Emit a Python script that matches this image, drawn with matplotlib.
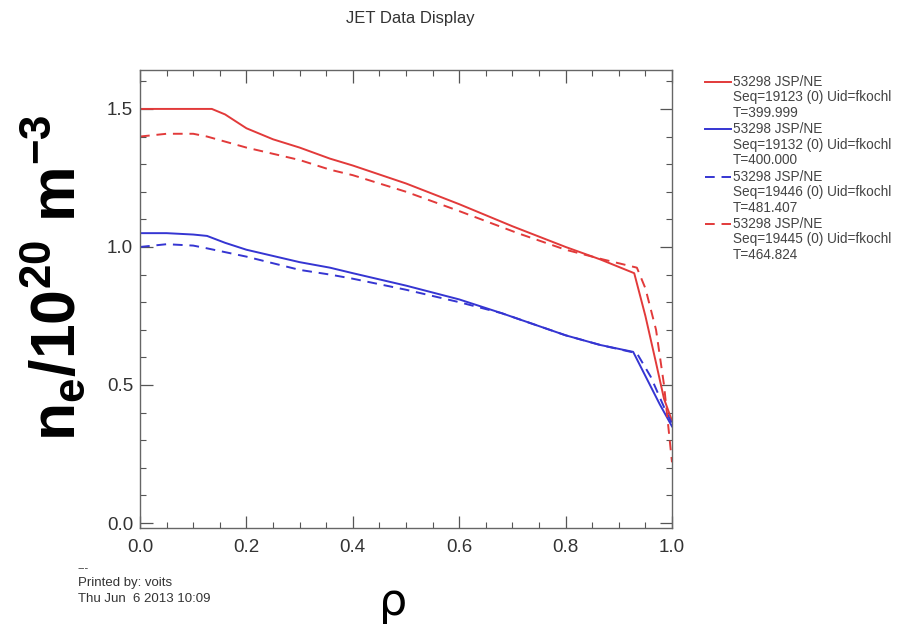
import matplotlib
matplotlib.use("Agg")
import matplotlib.pyplot as plt
from matplotlib.lines import Line2D
from matplotlib.ticker import MultipleLocator

plt.rcParams["mathtext.fontset"] = "custom"
plt.rcParams["mathtext.rm"] = "Liberation Sans"
plt.rcParams["mathtext.bf"] = "Liberation Sans:bold"
plt.rcParams["mathtext.it"] = "Liberation Sans:italic"

# ---- data ----
rho_r1 = [0.0, 0.05, 0.10, 0.135, 0.16, 0.20, 0.25, 0.30, 0.357, 0.40, 0.50, 0.60, 0.70, 0.80, 0.865, 0.929, 0.95, 0.97, 0.985, 1.0]
ne_r1 = [1.50, 1.50, 1.50, 1.50, 1.48, 1.43, 1.39, 1.36, 1.32, 1.295, 1.23, 1.155, 1.075, 1.00, 0.955, 0.905, 0.75, 0.58, 0.45, 0.37]

rho_b1 = [0.0, 0.05, 0.10, 0.126, 0.16, 0.20, 0.30, 0.357, 0.40, 0.50, 0.60, 0.68, 0.80, 0.865, 0.927, 0.977, 1.0]
ne_b1 = [1.05, 1.05, 1.045, 1.04, 1.015, 0.99, 0.945, 0.925, 0.905, 0.86, 0.81, 0.76, 0.68, 0.645, 0.62, 0.43, 0.35]

rho_b2 = [0.0, 0.05, 0.10, 0.126, 0.20, 0.30, 0.357, 0.40, 0.50, 0.60, 0.68, 0.80, 0.865, 0.934, 0.96, 0.985, 1.0]
ne_b2 = [1.00, 1.01, 1.005, 0.995, 0.965, 0.917, 0.90, 0.885, 0.845, 0.80, 0.76, 0.68, 0.645, 0.615, 0.53, 0.42, 0.36]

rho_r2 = [0.0, 0.05, 0.10, 0.126, 0.20, 0.30, 0.357, 0.40, 0.50, 0.60, 0.71, 0.80, 0.87, 0.934, 0.95, 0.97, 0.985, 1.0]
ne_r2 = [1.40, 1.41, 1.41, 1.40, 1.36, 1.315, 1.28, 1.26, 1.20, 1.13, 1.05, 0.99, 0.955, 0.925, 0.85, 0.70, 0.50, 0.22]

series = [
    (rho_r1, ne_r1, "53298 JSP/NE\nSeq=19123 (0) Uid=fkochl\nT=399.999"),
    (rho_b1, ne_b1, "53298 JSP/NE\nSeq=19132 (0) Uid=fkochl\nT=400.000"),
    (rho_b2, ne_b2, "53298 JSP/NE\nSeq=19446 (0) Uid=fkochl\nT=481.407"),
    (rho_r2, ne_r2, "53298 JSP/NE\nSeq=19445 (0) Uid=fkochl\nT=464.824"),
]
colors = ["#e23a3a", "#3535d2", "#3535d2", "#e23a3a"]
styles = ["-", "-", (0, (5, 3.5)), (0, (5, 3.5))]

xticks = [0.0, 0.2, 0.4, 0.6, 0.8, 1.0]
yticks = [0.0, 0.5, 1.0, 1.5]

W, H = 899, 626
fig = plt.figure(figsize=(W / 100, H / 100), dpi=100)
ax = fig.add_axes([140 / W, 1 - 528 / H, (672 - 140) / W, (528 - 70) / H])

for (x, y, lab), c, ls in zip(series, colors, styles):
    ax.plot(x, y, color=c, ls=ls, lw=1.4)

ax.set_xlim(0, 1.0)
ax.set_ylim(-0.018, 1.641)
ax.set_xticks(xticks)
ax.set_yticks(yticks)
ax.set_xticklabels([f"{v:.1f}" for v in xticks])
ax.set_yticklabels([f"{v:.1f}" for v in yticks])
ax.xaxis.set_minor_locator(MultipleLocator(0.05))
ax.yaxis.set_minor_locator(MultipleLocator(0.1))
ax.tick_params(which="both", direction="in", top=True, right=True, colors="#555555",
               labelcolor="#333333", labelsize=13.5)
ax.tick_params(which="major", length=9, width=0.9)
ax.tick_params(which="minor", length=4, width=0.8)
for s in ax.spines.values():
    s.set_color("#666666")
    s.set_linewidth(1.0)
for lab in ax.get_xticklabels() + ax.get_yticklabels():
    lab.set_family("Liberation Sans")
ax.tick_params(axis="x", pad=8)
ax.tick_params(axis="y", pad=5)

fig.text(410 / W, 1 - 18 / H, "JET Data Display", ha="center", va="center",
         fontsize=12, color="#333333", family="Liberation Sans")

fig.text(54 / W, 1 - 278 / H, r"$\mathbf{n_e/10^{20}\ m^{-3}}$", rotation=90,
         ha="center", va="center", fontsize=45, color="black")
fig.text(393 / W, 1 - 602 / H, "ρ", ha="center", va="center", fontsize=32,
         color="black", family="DejaVu Sans")

fig.text(78 / W, 1 - 568 / H, "---", ha="left", va="center", fontsize=8, color="#333333",
         family="Liberation Sans")
fig.text(78 / W, 1 - 583 / H, "Printed by: voits", ha="left", va="center", fontsize=9.5,
         color="#333333", family="Liberation Sans")
fig.text(78 / W, 1 - 599 / H, "Thu Jun  6 2013 10:09", ha="left", va="center", fontsize=9.5,
         color="#333333", family="Liberation Sans")

# legend drawn manually to mimic IDL layout
y0 = 82
dy_entry = 47.3
dy_line = 15.5
for i, ((x, y, lab), c, ls) in enumerate(zip(series, colors, styles)):
    yy = y0 + i * dy_entry
    fig.add_artist(Line2D([705 / W, 731 / W], [1 - yy / H, 1 - yy / H], color=c, ls=ls, lw=1.4,
                          transform=fig.transFigure))
    for j, line in enumerate(lab.split("\n")):
        fig.text(733 / W, 1 - (yy + j * dy_line) / H, line, ha="left", va="center",
                 fontsize=9.8, color="#444444", family="Liberation Sans")

fig.savefig("out.png", dpi=100)
